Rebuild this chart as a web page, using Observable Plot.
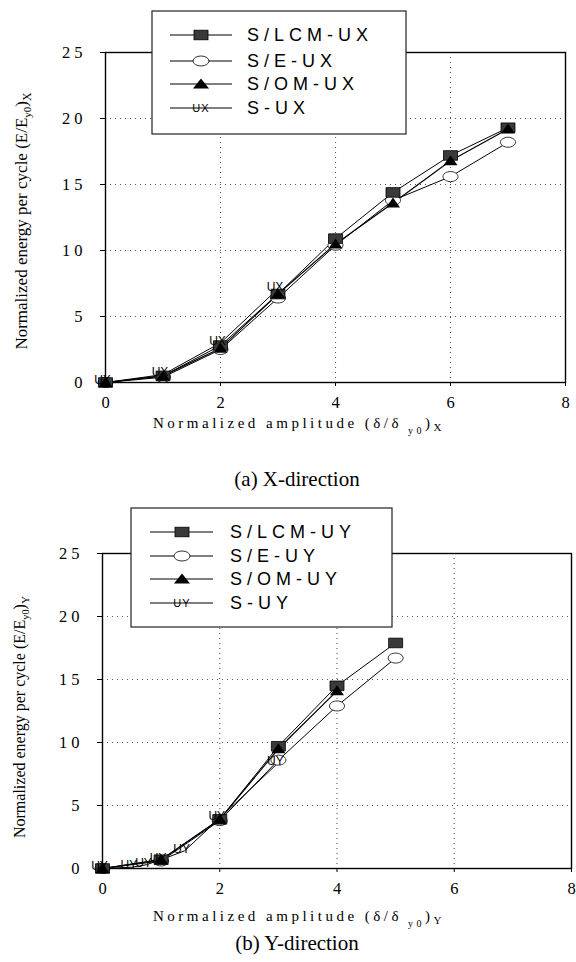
<!DOCTYPE html>
<html><head><meta charset="utf-8">
<script src="https://cdn.jsdelivr.net/npm/d3@7"></script>
<script src="https://cdn.jsdelivr.net/npm/@observablehq/plot@0.6"></script>
<style>
body{margin:0;background:#fff;}
#root{position:relative;width:576px;height:962px;overflow:hidden;background:#fff;}
#root svg{position:absolute;left:0;overflow:visible;}
</style></head><body><div id="root"></div>
<script>
// ---- data: (a) X-direction ----
const ampX = [0, 1, 2, 3, 4, 5, 6, 7];
const lcmUX = [0, 0.5, 2.8, 6.7, 10.9, 14.4, 17.2, 19.3];
const eUX = [0, 0.4, 2.5, 6.4, 10.4, 13.8, 15.6, 18.2];
const omUX = [0, 0.5, 2.6, 6.7, 10.5, 13.6, 16.8, 19.2];
const ampSUX = [0, 1, 2, 3];
const sUX = [0, 0.6, 3.0, 7.1];

// ---- data: (b) Y-direction ----
const ampY = [0, 1, 2, 3, 4, 5];
const lcmUY = [0, 0.7, 3.9, 9.7, 14.5, 17.9];
const eUY = [0, 0.6, 3.8, 8.6, 12.9, 16.7];
const ampOMY = [0, 1, 2, 3, 4];
const omUY = [0, 0.7, 3.9, 9.5, 14.1];
const ampSUY = [0, 0.5, 0.75, 1, 1.4, 2, 3];
const sUY = [0, 0.1, 0.3, 0.7, 1.4, 4.0, 8.4];

// ---- ticks / labels ----
const yTicks = [0, 5, 10, 15, 20, 25];
const xTicks = [0, 2, 4, 6, 8];
const gridYVals = [5, 10, 15, 20];
const gridXVals = [2, 4, 6];
const legendXLabels = ["S/LCM-UX", "S/E-UX", "S/OM-UX", "S-UX"];
const legendYLabels = ["S/LCM-UY", "S/E-UY", "S/OM-UY", "S-UY"];
const markerXText = "UX";
const markerYText = "UY";
const yLabelMain = "Normalized energy per cycle (E/E";
const xLabelMain = "Normalized amplitude (δ/δ";
const captionA = "(a) X-direction";
const captionB = "(b) Y-direction";

// ---- custom marker shapes ----
const wideSquare = {draw(ctx) { const w = 7, h = 4.8; ctx.moveTo(-w, -h); ctx.lineTo(w, -h); ctx.lineTo(w, h); ctx.lineTo(-w, h); ctx.closePath(); }};
const ellipse = {draw(ctx) { const a = 7.5, b = 5, k = 0.5523;
  ctx.moveTo(a, 0);
  ctx.bezierCurveTo(a, b * k, a * k, b, 0, b);
  ctx.bezierCurveTo(-a * k, b, -a, b * k, -a, 0);
  ctx.bezierCurveTo(-a, -b * k, -a * k, -b, 0, -b);
  ctx.bezierCurveTo(a * k, -b, a, -b * k, a, 0);
  ctx.closePath(); }};
const tri = {draw(ctx) { ctx.moveTo(0, -5.5); ctx.lineTo(7, 4.5); ctx.lineTo(-7, 4.5); ctx.closePath(); }};

const rows = (xs, ys) => xs.map((x, i) => ({x, y: ys[i]}));

function chart(o) {
  const dL = rows(o.ampL, o.lcm), dE = rows(o.ampL, o.e), dO = rows(o.ampOM, o.om), dS = rows(o.ampS, o.s);
  const svg = Plot.plot({
    width: 576, height: o.height,
    marginLeft: o.marginLeft, marginRight: o.marginRight, marginTop: o.marginTop, marginBottom: o.marginBottom,
    x: {domain: [0, 8]}, y: {domain: [0, 25]},
    style: {fontFamily: "Liberation Serif", fontSize: "16.5px", color: "#000", background: "transparent"},
    marks: [
      Plot.gridY(gridYVals, {stroke: "#555", strokeOpacity: 1, strokeWidth: 1.1, strokeDasharray: "1,4"}),
      Plot.gridX(gridXVals, {stroke: "#555", strokeOpacity: 1, strokeWidth: 1.1, strokeDasharray: "1,4"}),
      Plot.axisY(yTicks, {tickSize: 5, tickPadding: 14, label: null}),
      Plot.axisX(xTicks, {tickSize: 4, tickPadding: 10, label: null}),
      Plot.frame({stroke: "#000", strokeWidth: 1.4}),
      Plot.line(dS, {x: "x", y: "y", stroke: "#000", strokeWidth: 1}),
      Plot.line(dE, {x: "x", y: "y", stroke: "#000", strokeWidth: 1}),
      Plot.line(dO, {x: "x", y: "y", stroke: "#000", strokeWidth: 1.2}),
      Plot.line(dL, {x: "x", y: "y", stroke: "#000", strokeWidth: 1}),
      Plot.dot(dE, {x: "x", y: "y", symbol: ellipse, r: 5, fill: "#fff", stroke: "#000", strokeWidth: 0.8}),
      Plot.dot(dL, {x: "x", y: "y", symbol: wideSquare, r: 5, fill: "#3a3a3a", stroke: "#000", strokeWidth: 0.8}),
      Plot.dot(dO, {x: "x", y: "y", symbol: tri, r: 5, fill: "#000", stroke: "none"}),
      Plot.text(dS, {x: "x", y: "y", text: () => o.sLabel, fontFamily: "Liberation Sans", fontSize: 12, dx: -3, dy: -2, fill: "#000"})
    ]
  });
  d3.select(svg).selectAll('[aria-label="y-axis tick label"] text').style("letter-spacing", "4px");
  return svg;
}

function legend(svg, L) {
  const g = d3.select(svg).append("g");
  g.append("rect").attr("x", L.x).attr("y", L.y).attr("width", L.w).attr("height", L.h)
    .attr("fill", "#fff").attr("stroke", "#222").attr("stroke-width", 1.2);
  L.labels.forEach((lab, i) => {
    const y = L.rows[i];
    g.append("line").attr("x1", L.lx1).attr("x2", L.lx2).attr("y1", y).attr("y2", y).attr("stroke", "#000").attr("stroke-width", 1.1);
    const m = L.mx;
    if (i === 0) g.append("rect").attr("x", m - 7).attr("y", y - 4.8).attr("width", 14).attr("height", 9.6).attr("fill", "#3a3a3a").attr("stroke", "#000").attr("stroke-width", 0.8);
    if (i === 1) g.append("ellipse").attr("cx", m).attr("cy", y).attr("rx", 8).attr("ry", 5).attr("fill", "#fff").attr("stroke", "#000").attr("stroke-width", 0.8);
    if (i === 2) g.append("path").attr("d", `M${m},${y - 5.5}L${m + 8},${y + 4.5}L${m - 8},${y + 4.5}Z`).attr("fill", "#000");
    if (i === 3) g.append("text").attr("x", m).attr("y", y).attr("dy", "0.35em").attr("text-anchor", "middle")
      .style("font-family", "Liberation Sans").style("font-size", "11px").style("letter-spacing", "1px").text(L.sLabel);
    g.append("text").attr("x", L.tx).attr("y", y).attr("dy", "0.36em").attr("text-anchor", "start")
      .style("font-family", "Liberation Sans").style("font-size", "18px").style("letter-spacing", "5px").text(lab);
  });
}

function yLabel(svg, x, y, sub, fs) {
  const t = d3.select(svg).append("text").attr("transform", `translate(${x},${y}) rotate(-90)`)
    .attr("text-anchor", "middle").style("font-family", "Liberation Serif").style("font-size", fs + "px");
  t.append("tspan").text(yLabelMain);
  t.append("tspan").style("font-size", (fs * 0.65) + "px").attr("dy", 4).text("y0");
  t.append("tspan").attr("dy", -4).text(")");
  t.append("tspan").style("font-size", (fs * 0.7) + "px").attr("dy", 4).text(sub);
}

function xLabel(svg, x, y, sub) {
  const t = d3.select(svg).append("text").attr("x", x).attr("y", y).attr("text-anchor", "start")
    .style("font-family", "Liberation Serif").style("font-size", "15px").style("letter-spacing", "3.5px");
  t.append("tspan").text(xLabelMain);
  t.append("tspan").style("font-size", "10px").attr("dy", 6).text(" y0");
  t.append("tspan").attr("dy", -6).text(")");
  t.append("tspan").style("font-size", "11px").attr("dy", 3).text(sub);
}

function caption(svg, x, y, txt) {
  d3.select(svg).append("text").attr("x", x).attr("y", y).attr("text-anchor", "middle")
    .style("font-family", "Liberation Serif").style("font-size", "21px").text(txt);
}

const root = document.getElementById("root");

const svgA = chart({ampL: ampX, lcm: lcmUX, e: eUX, ampOM: ampX, om: omUX, ampS: ampSUX, s: sUX, sLabel: markerXText,
  height: 480, marginTop: 52, marginBottom: 98, marginLeft: 105, marginRight: 11});
svgA.style.top = "0px";
legend(svgA, {x: 152, y: 11, w: 254, h: 123, rows: [35, 61, 84, 108], lx1: 170, lx2: 232, mx: 201, tx: 247, labels: legendXLabels, sLabel: markerXText});
yLabel(svgA, 27, 221, "X", 17);
xLabel(svgA, 153, 428, "X");
caption(svgA, 297, 486, captionA);
root.appendChild(svgA);

const svgB = chart({ampL: ampY, lcm: lcmUY, e: eUY, ampOM: ampOMY, om: omUY, ampS: ampSUY, s: sUY, sLabel: markerYText,
  height: 482, marginTop: 73, marginBottom: 94, marginLeft: 102, marginRight: 5});
svgB.style.top = "480px";
legend(svgB, {x: 131, y: 28, w: 261, h: 119, rows: [52, 76, 99, 123], lx1: 150, lx2: 213, mx: 182, tx: 230, labels: legendYLabels, sLabel: markerYText});
yLabel(svgB, 25, 237, "Y", 16);
xLabel(svgB, 153, 441, "Y");
caption(svgB, 297, 470, captionB);
root.appendChild(svgB);
</script></body></html>
